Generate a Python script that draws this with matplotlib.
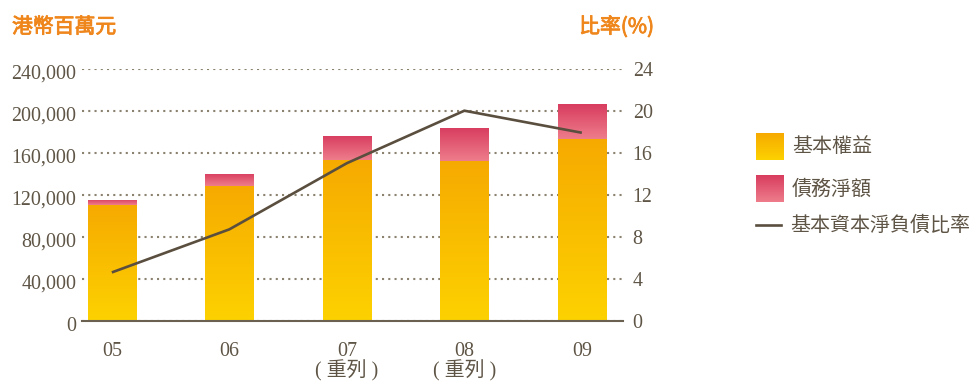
import matplotlib
matplotlib.use("Agg")
import matplotlib.pyplot as plt
import matplotlib.transforms as mtransforms
import matplotlib.patheffects as pe
import numpy as np
from matplotlib.colors import LinearSegmentedColormap
from matplotlib.lines import Line2D

# HK$ million, ratio in %
years = ["05", "06", "07\n( 重列 )", "08\n( 重列 )", "09"]
equity = [110000, 128000, 153000, 152000, 173000]
net_debt = [5000, 12000, 23000, 31500, 33000]
gearing = [4.6, 8.7, 15.0, 20.0, 17.9]

left_ticks = [0, 40000, 80000, 120000, 160000, 200000, 240000]
right_ticks = [0, 4, 8, 12, 16, 20, 24]

TXT = "#5f5546"
ORANGE_TXT = "#ef861b"
NUM_FONT = ["Liberation Serif", "Noto Sans CJK TC"]
CJK_FONT = ["Noto Sans CJK TC", "DejaVu Sans"]

eq_cmap = LinearSegmentedColormap.from_list("eq", ["#fdd200", "#f6aa00"])
debt_cmap = LinearSegmentedColormap.from_list("debt", ["#ee7d8b", "#d83c5f"])
grad = np.linspace(0, 1, 256).reshape(-1, 1)


def fill_gradient(ax, patches, cmap):
    for p in patches:
        x0, y0 = p.get_x(), p.get_y()
        w, h = p.get_width(), p.get_height()
        im = ax.imshow(grad, cmap=cmap, origin="lower", aspect="auto",
                       extent=[x0, x0 + w, y0, y0 + h], zorder=2)
        im.set_clip_path(p)


fig = plt.figure(figsize=(9.76, 3.84), dpi=100)
ax = fig.add_axes([0.084, 0.1648, 0.5543, 0.6563])

x = np.arange(len(years))
b1 = ax.bar(x, equity, width=0.41, facecolor="none", edgecolor="none", zorder=2)
b2 = ax.bar(x, net_debt, bottom=equity, width=0.41, facecolor="none",
            edgecolor="none", zorder=2)
fill_gradient(ax, b1, eq_cmap)
fill_gradient(ax, b2, debt_cmap)

ax.set_xlim(-0.254, 4.35)
ax.set_ylim(0, 240000)
ax.set_yticks(left_ticks)
ax.set_yticklabels([f"{v:,}" for v in left_ticks], family=NUM_FONT,
                   fontsize=14.4, color=TXT)
ax.set_xticks(x)
ax.set_xticklabels(years, family=NUM_FONT, fontsize=14.4, color=TXT,
                   linespacing=0.95)
ax.tick_params(axis="y", length=0, pad=4)
ax.tick_params(axis="x", length=0, pad=15)
ax.grid(axis="y", color="#8c8270", lw=1.5, linestyle=(0, (1, 2)),
        dash_capstyle="butt")
ax.set_axisbelow(True)
for s in ["left", "right", "top"]:
    ax.spines[s].set_visible(False)
ax.spines["bottom"].set_color("#6b6150")
ax.spines["bottom"].set_linewidth(1.5)
ax.spines["bottom"].set_zorder(4)

# left numbers sit a little below their grid lines
shift = mtransforms.ScaledTranslation(0, -3 / 100, fig.dpi_scale_trans)
for lbl in ax.get_yticklabels():
    lbl.set_transform(lbl.get_transform() + shift)

ax2 = ax.twinx()
ax2.plot(x, gearing, color="#5a4e3e", lw=1.9, solid_capstyle="butt", zorder=5)
ax2.set_ylim(0, 24)
ax2.set_yticks(right_ticks)
ax2.set_yticklabels([str(v) for v in right_ticks], family=NUM_FONT,
                    fontsize=14.4, color=TXT)
ax2.tick_params(axis="y", length=0, pad=7)
for s in ax2.spines.values():
    s.set_visible(False)

# axis titles, slightly heavier than regular
heavy = [pe.withStroke(linewidth=0.6, foreground=ORANGE_TXT)]
fig.text(12 / 976, 1 - 27 / 384, "港幣百萬元", family=CJK_FONT, fontsize=15,
         color=ORANGE_TXT, ha="left", va="center", path_effects=heavy)
fig.text(654 / 976, 1 - 27 / 384, "比率(%)", family=CJK_FONT, fontsize=15,
         color=ORANGE_TXT, ha="right", va="center", path_effects=heavy)

# legend
for top, cmap, label in [(133, eq_cmap, "基本權益"), (175, debt_cmap, "債務淨額")]:
    lax = fig.add_axes([756 / 976, 1 - (top + 27) / 384, 28 / 976, 27 / 384])
    lax.imshow(grad, cmap=cmap, origin="lower", aspect="auto")
    lax.axis("off")
    fig.text(792 / 976, 1 - (top + 14) / 384, label, family=CJK_FONT,
             fontsize=14.4, color=TXT, ha="left", va="center")
fig.add_artist(Line2D([756 / 976, 781 / 976], [1 - 225 / 384, 1 - 225 / 384],
                      color="#5a4e3e", lw=1.9, transform=fig.transFigure))
fig.text(790 / 976, 1 - 225 / 384, "基本資本淨負債比率", family=CJK_FONT,
         fontsize=14.4, color=TXT, ha="left", va="center")

fig.savefig("out.png", dpi=100)
